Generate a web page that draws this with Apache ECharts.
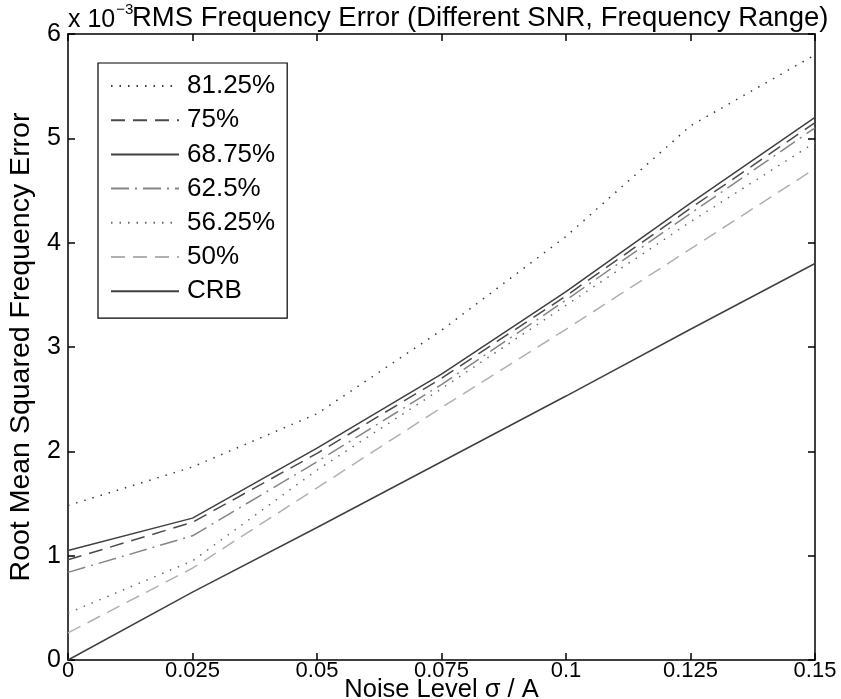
<!DOCTYPE html>
<html>
<head>
<meta charset="utf-8">
<script src="https://cdn.jsdelivr.net/npm/echarts@6/dist/echarts.min.js"></script>
<style>
  html, body { margin: 0; padding: 0; background: #fff; }
  #chart { width: 841px; height: 699px; }
</style>
</head>
<body>
<div id="chart"></div>
<script>
// noise level sigma / A
const noiseLevels = [0, 0.025, 0.05, 0.075, 0.1, 0.125, 0.15];

// RMS frequency error, units of 1e-3
const err8125 = [1.48, 1.85, 2.36, 3.16, 4.06, 5.12, 5.80];
const err75 = [0.96, 1.32, 1.98, 2.70, 3.49, 4.33, 5.15];
const err6875 = [1.05, 1.36, 2.03, 2.74, 3.53, 4.38, 5.20];
const err625 = [0.84, 1.19, 1.90, 2.64, 3.45, 4.28, 5.10];
const err5625 = [0.45, 0.95, 1.82, 2.60, 3.40, 4.20, 4.96];
const err50 = [0.26, 0.88, 1.65, 2.42, 3.17, 3.94, 4.71];
const errCRB = [0, 0.65, 1.27, 1.90, 2.53, 3.17, 3.80];

const font = "'Liberation Sans', Arial, Helvetica, sans-serif";

function pairs(ys) {
  return noiseLevels.map((x, i) => [x, ys[i]]);
}

function mkLine(name, ys, color, type) {
  return {
    name: name,
    type: "line",
    data: pairs(ys),
    symbol: "none",
    animation: false,
    lineStyle: { color: color, width: 1.5, type: type },
    itemStyle: { color: color },
    emphasis: { disabled: true },
  };
}

const axisLine = { show: true, onZero: false, lineStyle: { color: "#000", width: 1.5 } };
const axisTick = { show: true, inside: true, length: 7, lineStyle: { color: "#000", width: 1.5 } };

const chart = echarts.init(document.getElementById("chart"), null, { renderer: "canvas" });

chart.setOption({
  backgroundColor: "#fff",
  textStyle: { fontFamily: font },
  title: {
    text: "RMS Frequency Error (Different SNR, Frequency Range)",
    left: 132,
    top: 4,
    padding: 0,
    textStyle: { fontFamily: font, fontSize: 27.5, fontWeight: "normal", color: "#000" },
  },
  graphic: [
    {
      type: "text",
      left: 68,
      top: 2,
      style: {
        text: "{b|x 10}{s|−3}",
        rich: {
          b: { fontFamily: font, fontSize: 25, fill: "#000", verticalAlign: "bottom", lineHeight: 30 },
          s: { fontFamily: font, fontSize: 15, fill: "#000", verticalAlign: "top", padding: [0, 0, 16, 1] },
        },
      },
    },
  ],
  grid: { left: 68, right: 26, top: 34, bottom: 39, containLabel: false, outerBoundsMode: "none" },
  legend: {
    orient: "vertical",
    left: 98,
    top: 63,
    padding: [10, 12, 14, 12],
    itemGap: 8.2,
    itemWidth: 68,
    itemHeight: 14,
    backgroundColor: "#fff",
    borderColor: "#000",
    borderWidth: 1.2,
    borderRadius: 0,
    selectedMode: false,
    itemStyle: { opacity: 0 },
    textStyle: { fontFamily: font, fontSize: 26, lineHeight: 26, color: "#000", padding: [0, 0, 0, 3] },
    data: ["81.25%", "75%", "68.75%", "62.5%", "56.25%", "50%", "CRB"],
  },
  xAxis: [
    {
      type: "value",
      min: 0,
      max: 0.15,
      interval: 0.025,
      position: "bottom",
      name: "Noise Level σ / A",
      nameLocation: "middle",
      nameGap: 17,
      nameMoveOverlap: false,
      nameTextStyle: { fontFamily: font, fontSize: 25.5, color: "#000" },
      axisLine: axisLine,
      axisTick: axisTick,
      splitLine: { show: false },
      axisLabel: { color: "#000", fontFamily: font, fontSize: 22, margin: 0 },
    },
    {
      type: "value",
      min: 0,
      max: 0.15,
      interval: 0.025,
      position: "top",
      axisLine: axisLine,
      axisTick: axisTick,
      splitLine: { show: false },
      axisLabel: { show: false },
    },
  ],
  yAxis: [
    {
      type: "value",
      min: 0,
      max: 6,
      interval: 1,
      position: "left",
      name: "Root Mean Squared Frequency Error",
      nameLocation: "middle",
      nameGap: 32,
      nameMoveOverlap: false,
      nameTextStyle: { fontFamily: font, fontSize: 28.5, color: "#000" },
      axisLine: axisLine,
      axisTick: axisTick,
      splitLine: { show: false },
      axisLabel: { color: "#000", fontFamily: font, fontSize: 25, margin: 7 },
    },
    {
      type: "value",
      min: 0,
      max: 6,
      interval: 1,
      position: "right",
      axisLine: axisLine,
      axisTick: axisTick,
      splitLine: { show: false },
      axisLabel: { show: false },
    },
  ],
  series: [
    mkLine("81.25%", err8125, "#3a3a3a", [1.5, 7]),
    mkLine("75%", err75, "#4a4a4a", [14, 8]),
    mkLine("68.75%", err6875, "#404040", "solid"),
    mkLine("62.5%", err625, "#858585", [18, 6, 2, 6]),
    mkLine("56.25%", err5625, "#6a6a6a", [1.5, 7]),
    mkLine("50%", err50, "#b0b0b0", [14, 8]),
    mkLine("CRB", errCRB, "#404040", "solid"),
  ],
});
</script>
</body>
</html>
